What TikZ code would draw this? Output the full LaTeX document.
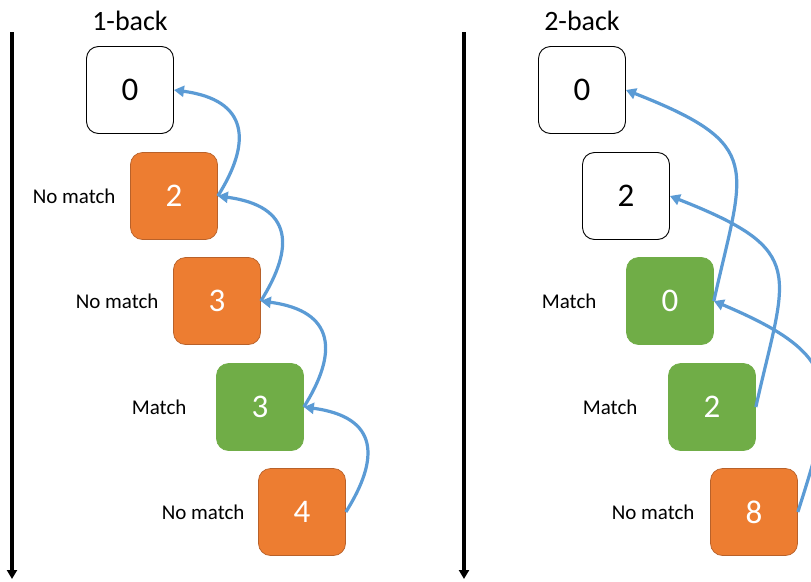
\documentclass[tikz,border=0pt]{standalone}
\usepackage{fontspec}
\setmainfont{Carlito}
\usetikzlibrary{arrows.meta}
\definecolor{orng}{HTML}{ED7D31}
\definecolor{orngdark}{HTML}{B8612A}
\definecolor{grn}{HTML}{70AD47}
\definecolor{blu}{HTML}{5B9BD5}
\begin{document}
\begin{tikzpicture}[x=1pt,y=-1pt,
  card/.style={rounded corners=12pt, minimum width=87pt, minimum height=87pt, inner sep=0pt, font=\fontsize{33}{36}\selectfont},
  plain/.style={card, draw=black, line width=0.9pt, fill=white, text=black},
  nomatch/.style={card, fill=orng, draw=orngdark, line width=0.7pt, text=white},
  match/.style={card, fill=grn, draw=grn, line width=0.7pt, text=white},
  lbl/.style={font=\fontsize{21}{24}\selectfont, inner sep=0pt},
  ttl/.style={font=\fontsize{28}{32}\selectfont, inner sep=0pt},
  link/.style={draw=blu, line width=3.2pt, -{Triangle[length=10pt,width=11pt]}},
  timeline/.style={draw=black, line width=3.2pt, -{Triangle[length=9pt,width=10pt]}}]
\useasboundingbox (0,0) rectangle (811,581);
\clip (0,0) rectangle (811,581);

% time axes
\coordinate (t1s) at (12,32);
\coordinate (t1e) at (12,579);
\coordinate (t2s) at (464,32);
\coordinate (t2e) at (464,579);
\draw[timeline] (t1s) -- (t1e);
\draw[timeline] (t2s) -- (t2e);

% titles
\node[ttl] (title1) at (130,21) {1-back};
\node[ttl] (title2) at (582,21) {2-back};

% 1-back boxes
\node[plain]   (b1) at (130,90)  {0};
\node[nomatch] (b2) at (174,196) {2};
\node[nomatch] (b3) at (217,301) {3};
\node[match]   (b4) at (260,407) {3};
\node[nomatch] (b5) at (302,512) {4};

\node[lbl] (lb2) at ([xshift=-56pt]b2.west) {No match};
\node[lbl] (lb3) at ([xshift=-56pt]b3.west) {No match};
\node[lbl] (lb4) at ([xshift=-57pt]b4.west) {Match};
\node[lbl] (lb5) at ([xshift=-55pt]b5.west) {No match};

% 2-back boxes
\node[plain]   (c1) at (582,90)  {0};
\node[plain]   (c2) at (626,196) {2};
\node[match]   (c3) at (670,301) {0};
\node[match]   (c4) at (712,407) {2};
\node[nomatch] (c5) at (754,512) {8};

\node[lbl] (lc3) at ([xshift=-57pt]c3.west) {Match};
\node[lbl] (lc4) at ([xshift=-58pt]c4.west) {Match};
\node[lbl] (lc5) at ([xshift=-57pt]c5.west) {No match};

% 1-back links
\draw[link] (b2.east) .. controls +(34,-54) and +(75,10) .. (b1.east);
\draw[link] (b3.east) .. controls +(34,-54) and +(75,10) .. (b2.east);
\draw[link] (b4.east) .. controls +(34,-54) and +(75,10) .. (b3.east);
\draw[link] (b5.east) .. controls +(34,-54) and +(75,10) .. (b4.east);

% 2-back links
\draw[link] (c3.east) .. controls +(30,-135) and +(140,55) .. (c1.east);
\draw[link] (c4.east) .. controls +(30,-135) and +(140,55) .. (c2.east);
\draw[link] (c5.east) .. controls +(40,-125) and +(130,55) .. (c3.east);
\end{tikzpicture}
\end{document}
